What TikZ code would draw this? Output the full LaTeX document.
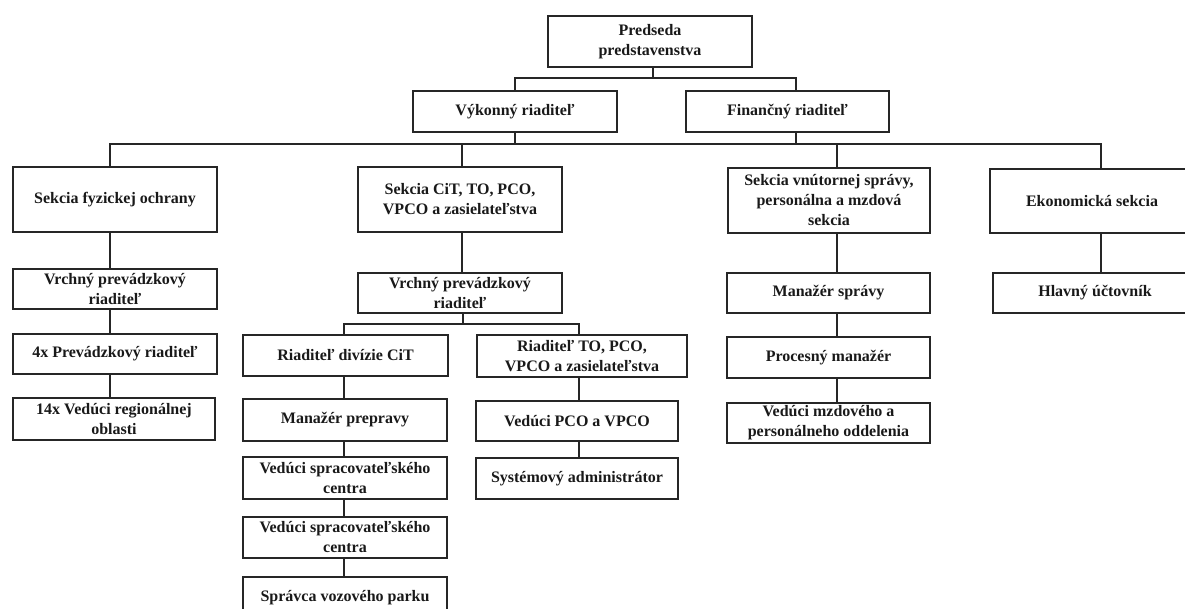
\documentclass[tikz,border=0pt]{standalone}
\usepackage{fontspec}
\setmainfont{Liberation Serif}
\tikzset{
  obox/.style={draw=black!85, line width=1.6pt, inner sep=0pt, align=center,
    font=\bfseries\fontsize{16}{20}\selectfont, text=black!90},
  conn/.style={draw=black!85, line width=1.6pt}
}
\newcommand\obx[6]{\node[obox, minimum width=#4pt, minimum height=#5pt] (#1) at (#2,#3) {#6};}
\begin{document}
\begin{tikzpicture}[x=1pt, y=-1pt]
\useasboundingbox (0,0) rectangle (1185,609);
\clip (0,0) rectangle (1185,609);
% level 0/1
\obx{pre}{650}{41.5}{204}{51}{Predseda\\predstavenstva}
\obx{vyk}{515}{111.5}{204}{41}{Výkonný riaditeľ}
\obx{fin}{787.5}{111.5}{203}{41}{Finančný riaditeľ}
% level 2
\obx{fyz}{115}{199.5}{204}{65}{Sekcia fyzickej ochrany}
\obx{cit}{460}{199.5}{204}{65}{Sekcia CiT, TO, PCO,\\VPCO a zasielateľstva}
\obx{vnu}{829}{200.5}{202}{65}{Sekcia vnútornej správy,\\personálna a mzdová\\sekcia}
\obx{eko}{1092}{201}{204}{64}{Ekonomická sekcia}
% left column
\obx{vrl}{115}{289}{204}{40}{Vrchný prevádzkový\\riaditeľ}
\obx{pr4}{115}{354}{204}{40}{4x Prevádzkový riaditeľ}
\obx{v14}{114}{419}{202}{42}{14x Vedúci regionálnej\\oblasti}
% middle
\obx{vrm}{460}{293}{204}{40}{Vrchný prevádzkový\\riaditeľ}
\obx{rcit}{345.5}{355.5}{205}{41}{Riaditeľ divízie CiT}
\obx{rto}{582}{356}{210}{42}{Riaditeľ TO, PCO,\\VPCO a zasielateľstva}
\obx{man}{345}{420}{204}{42}{Manažér prepravy}
\obx{vedA}{345}{478}{204}{42}{Vedúci spracovateľského\\centra}
\obx{vedB}{345}{537.5}{204}{41}{Vedúci spracovateľského\\centra}
\obx{spr}{345}{597.5}{204}{41}{Správca vozového parku}
\obx{vpco}{577}{421}{202}{40}{Vedúci PCO a VPCO}
\obx{sys}{577}{478.5}{202}{41}{Systémový administrátor}
% right
\obx{msp}{828.5}{293}{203}{40}{Manažér správy}
\obx{proc}{828.5}{357.5}{203}{41}{Procesný manažér}
\obx{vmz}{828.5}{423}{203}{40}{Vedúci mzdového a\\personálneho oddelenia}
\obx{hla}{1095}{293}{204}{40}{Hlavný účtovník}
% connectors
\draw[conn] (pre.south -| 653,0) -- (653,78);
\draw[conn] (vyk.north) -- (515,78) -- (796,78) -- (fin.north -| 796,0);
\draw[conn] (vyk.south) -- (515,144);
\draw[conn] (fin.south -| 796,0) -- (796,144);
\draw[conn] (fyz.north -| 110,0) -- (110,144) -- (1101,144) -- (eko.north -| 1101,0);
\draw[conn] (462,144) -- (cit.north -| 462,0);
\draw[conn] (837,144) -- (vnu.north -| 837,0);
\draw[conn] (fyz.south -| 110,0) -- (vrl.north -| 110,0);
\draw[conn] (vrl.south -| 110,0) -- (pr4.north -| 110,0);
\draw[conn] (pr4.south -| 110,0) -- (v14.north -| 110,0);
\draw[conn] (cit.south -| 462,0) -- (vrm.north -| 462,0);
\draw[conn] (vrm.south -| 463,0) -- (463,324);
\draw[conn] (rcit.north -| 344,0) -- (344,324) -- (579,324) -- (rto.north -| 579,0);
\draw[conn] (rcit.south -| 344,0) -- (man.north -| 344,0);
\draw[conn] (man.south -| 344,0) -- (vedA.north -| 344,0);
\draw[conn] (vedA.south -| 344,0) -- (vedB.north -| 344,0);
\draw[conn] (vedB.south -| 344,0) -- (spr.north -| 344,0);
\draw[conn] (rto.south -| 579,0) -- (vpco.north -| 579,0);
\draw[conn] (vpco.south -| 579,0) -- (sys.north -| 579,0);
\draw[conn] (vnu.south -| 837,0) -- (msp.north -| 837,0);
\draw[conn] (msp.south -| 837,0) -- (proc.north -| 837,0);
\draw[conn] (proc.south -| 837,0) -- (vmz.north -| 837,0);
\draw[conn] (eko.south -| 1101,0) -- (hla.north -| 1101,0);
\end{tikzpicture}
\end{document}
